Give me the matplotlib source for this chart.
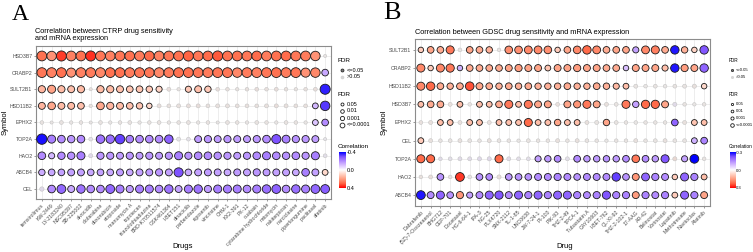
import numpy as np
import matplotlib
matplotlib.use("Agg")
import matplotlib.pyplot as plt
from matplotlib.colors import LinearSegmentedColormap, to_rgba

plt.rcParams['font.family'] = ['Liberation Sans', 'DejaVu Sans']

W, H = 753, 252

# ---- panel A : CTRP ----
ctrp_genes = ["HSD3B7", "CRABP2", "SULT2B1", "HSD11B2", "EPHX2", "TOP2A", "HAO2", "ABCB4", "CEL"]
ctrp_drugs = ["temsirolimus", "KW-2449", "LY-2183240", "NSC95397", "SB-225002", "alvocidib",
              "clofarabine", "doxorubicin", "etoposide", "manumycin A", "topotecan",
              "triazolothiadiazine", "BRD-K70511574", "GSK461364", "I-BET151", "dinaciclib",
              "parbendazole", "rigosertib", "vincristine", "CHM-1", "KX2-391", "PX-12", "ouabain",
              "cytarabine hydrochloride", "mitomycin", "nakiterpiosin", "narciclasine",
              "piperlongumine", "paclitaxel", "afatinib"]
ctrp_corr = [
    [0.28, 0.22, 0.34, 0.25, 0.28, 0.35, 0.27, 0.25, 0.27, 0.28, 0.26, 0.29, 0.25, 0.27, 0.28,
     0.30, 0.27, 0.29, 0.31, 0.28, 0.28, 0.27, 0.29, 0.26, 0.28, 0.29, 0.27, 0.26, 0.22, 0.02],
    [0.27, 0.25, 0.28, 0.22, 0.25, 0.26, 0.24, 0.28, 0.28, 0.26, 0.27, 0.27, 0.24, 0.26, 0.28,
     0.28, 0.27, 0.26, 0.27, 0.27, 0.24, 0.26, 0.25, 0.27, 0.28, 0.26, 0.27, 0.22, 0.24, -0.15],
    [0.15, 0.19, 0.14, 0.13, 0.14, 0.04, 0.14, 0.14, 0.13, 0.12, 0.12, 0.11, 0.09, 0.05, 0.03,
     0.11, 0.13, 0.11, 0.05, 0.04, 0.03, 0.04, 0.05, 0.04, 0.05, 0.04, 0.03, 0.04, 0.05, -0.36],
    [0.15, 0.18, 0.14, 0.14, 0.13, 0.04, 0.18, 0.15, 0.14, 0.13, 0.12, 0.08, 0.05, 0.04, 0.04,
     0.05, 0.05, 0.04, 0.04, 0.04, 0.04, 0.04, 0.04, 0.04, 0.05, 0.04, 0.04, 0.04, -0.12, -0.33],
    [0.03, 0.02, 0.03, 0.02, 0.03, 0.02, 0.03, 0.02, 0.03, 0.03, 0.02, 0.03, 0.03, 0.02, 0.03,
     0.03, 0.02, 0.03, 0.02, 0.03, 0.03, 0.02, 0.03, 0.03, 0.02, 0.03, 0.03, 0.02, -0.1, -0.2],
    [-0.38, -0.22, -0.2, -0.18, -0.2, -0.03, -0.24, -0.25, -0.32, -0.22, -0.2, -0.2, -0.2, -0.27, -0.03,
     -0.03, -0.17, -0.18, -0.17, -0.18, -0.17, -0.17, -0.18, -0.2, -0.3, -0.22, -0.19, -0.18, -0.17, -0.02],
    [-0.2, -0.12, -0.2, -0.19, -0.22, -0.06, -0.18, -0.18, -0.17, -0.18, -0.17, -0.18, -0.17, -0.18, -0.22,
     -0.18, -0.2, -0.2, -0.19, -0.18, -0.17, -0.18, -0.2, -0.22, -0.2, -0.19, -0.2, -0.18, -0.22, -0.04],
    [-0.14, -0.15, -0.16, -0.16, -0.16, -0.15, -0.16, -0.15, -0.17, -0.15, -0.16, -0.17, -0.18, -0.16, -0.3,
     -0.15, -0.16, -0.17, -0.16, -0.15, -0.17, -0.16, -0.18, -0.17, -0.16, -0.16, -0.15, -0.22, -0.16, 0.08],
    [-0.06, -0.2, -0.26, -0.15, -0.24, -0.2, -0.2, -0.26, -0.22, -0.17, -0.22, -0.22, -0.2, -0.24, -0.16,
     -0.22, -0.24, -0.17, -0.22, -0.22, -0.22, -0.2, -0.22, -0.25, -0.27, -0.2, -0.25, -0.22, -0.26, -0.28],
]
# -log10(FDR)
ctrp_nlog_fdr = [
    [12, 11, 13, 12, 12, 13, 12, 12, 12, 12, 12, 12, 12, 12, 12, 13, 12, 12, 13, 12, 12, 12, 12, 12, 12, 12, 12, 12, 11, 0.1],
    [12, 12, 12, 10, 12, 12, 12, 12, 12, 12, 12, 12, 12, 12, 12, 12, 12, 12, 12, 12, 11, 12, 12, 12, 12, 12, 12, 10, 11, 4],
    [5, 7, 5, 4.5, 5, 0.1, 5, 5, 4.5, 4, 4, 3.5, 3, 0.5, 0.2, 3, 4.5, 3.5, 0.4, 0.3, 0.2, 0.3, 0.4, 0.3, 0.4, 0.3, 0.2, 0.3, 0.4, 13],
    [4.5, 6, 4.5, 4.5, 4, 0.2, 6, 5, 4.5, 4, 3.5, 2, 0.5, 0.4, 0.5, 0.5, 0.5, 0.4, 0.5, 0.5, 0.4, 0.4, 0.4, 0.5, 0.5, 0.5, 0.4, 0.4, 2.5, 11],
    [0.3, 0.1, 0.4, 0.2, 0.3, 0.1, 0.4, 0.2, 0.3, 0.4, 0.2, 0.3, 0.4, 0.2, 0.3, 0.4, 0.2, 0.3, 0.1, 0.4, 0.3, 0.2, 0.4, 0.3, 0.2, 0.4, 0.3, 0.2, 2.5, 4],
    [14, 7, 6, 5.5, 6, 0.4, 8, 8, 11, 6, 6, 6, 6, 8, 0.5, 0.4, 4.5, 5, 4.5, 5, 4.5, 4.5, 5, 6, 10, 6.5, 5, 5, 4.5, 0.1],
    [6, 3, 5.5, 5.5, 7, 0.6, 5, 5, 4.5, 5, 4.5, 5, 4.5, 5, 7, 5, 6, 6, 5.5, 5, 4.5, 5, 6, 7, 6, 5.5, 6, 5, 7, 0.4],
    [3.5, 4, 4, 4.5, 4.5, 4, 4, 4, 4.5, 4, 4.5, 4.5, 5, 4.5, 10, 4, 4.5, 4.5, 4.5, 4, 4.5, 4.5, 5, 4.5, 4.5, 4.5, 4, 6, 4.5, 2.5],
    [0.8, 6, 9, 4.5, 8, 6, 6, 9, 7, 5, 7, 7, 6, 8, 4.5, 7, 8, 5, 7, 7, 7, 6, 7, 8, 9, 6, 8, 7, 9, 9],
]

# ---- panel B : GDSC ----
gdsc_genes = ["SULT2B1", "CRABP2", "HSD11B2", "HSD3B7", "EPHX2", "CEL", "TOP2A", "HAO2", "ABCB4"]
gdsc_drugs = ["Dabrafenib", "(5Z)-7-Oxozeaenol", "BHG712", "CEP-701", "Docetaxel", "HG-6-64-1",
              "IPA-3", "NG-25", "PLX4720", "SNX-2112", "TL-1-85", "UNC0638", "JW-7-24-1", "PI-103",
              "PIK-93", "THZ-2-49", "TPCA-1", "Tubastatin A", "CAY10603", "I-BET-762", "QL-XI-92",
              "THZ-2-102-1", "17-AAG", "AR-42", "Belinostat", "Vorinostat", "Lapatinib",
              "Methotrexate", "Navitoclax", "Afatinib"]
gdsc_corr = [
    [0.08, 0.14, 0.13, 0.2, 0.02, 0.14, 0.13, 0.12, 0.02, 0.17, 0.17, 0.18, 0.18, 0.17, 0.08,
     0.14, 0.18, 0.22, 0.18, 0.13, 0.14, 0.14, -0.12, 0.18, 0.19, 0.13, -0.28, 0.12, 0.07, -0.22],
    [0.18, 0.08, 0.18, 0.2, -0.1, 0.13, 0.13, 0.13, 0.13, 0.14, 0.15, 0.14, 0.14, 0.09, 0.14,
     0.14, 0.15, 0.14, 0.14, 0.13, 0.13, -0.08, 0.14, 0.14, 0.14, 0.1, -0.28, 0.15, 0.14, -0.2],
    [0.18, 0.22, 0.13, 0.12, 0.13, 0.24, 0.14, 0.13, 0.12, 0.13, 0.12, 0.13, 0.12, 0.12, 0.12,
     0.13, 0.12, 0.12, 0.13, 0.12, 0.11, 0.1, 0.02, 0.01, 0.02, 0.01, 0.02, 0.02, 0.03, 0.06],
    [0.1, 0.13, 0.13, 0.03, 0.1, 0.02, 0.1, 0.1, 0.13, 0.2, 0.1, 0.2, 0.14, 0.14, 0.03,
     0.14, 0.16, 0.2, 0.14, 0.03, 0.02, 0.2, -0.12, 0.22, 0.22, 0.14, -0.04, 0.02, 0.01, 0.02],
    [0.03, 0.03, 0.1, 0.1, 0.03, 0.1, 0.1, 0.03, 0.1, 0.1, 0.1, 0.22, 0.1, 0.1, 0.14,
     0.1, 0.1, 0.03, 0.02, 0.14, 0.02, 0.02, 0.01, 0.02, 0.02, 0.02, -0.2, 0.03, 0.09, 0.1],
    [0.08, 0.03, 0.02, 0.02, 0.03, 0.02, 0.02, 0.03, 0.02, 0.02, 0.01, 0.02, 0.02, 0.02, 0.03,
     0.02, 0.03, 0.02, 0.02, 0.01, 0.02, 0.02, 0.03, 0.02, 0.02, 0.03, 0.02, 0.02, -0.1, -0.16],
    [0.22, 0.22, -0.04, -0.03, -0.04, -0.04, -0.05, -0.05, 0.22, -0.04, -0.03, -0.03, -0.12, -0.13, -0.15,
     -0.03, -0.15, -0.13, -0.13, -0.14, -0.13, -0.15, 0.2, -0.15, -0.13, -0.22, 0.06, -0.12, -0.3, 0.02],
    [0.03, 0.04, -0.14, 0.02, 0.26, 0.02, -0.14, -0.15, 0.04, -0.13, -0.14, -0.14, -0.15, -0.15, -0.16,
     -0.15, -0.14, -0.15, -0.15, -0.15, -0.24, -0.14, 0.16, -0.2, -0.16, -0.15, 0.08, -0.2, -0.16, 0.1],
    [-0.28, -0.15, -0.2, -0.14, 0.16, -0.12, -0.15, -0.2, -0.22, -0.15, -0.2, -0.16, -0.2, -0.16, -0.2,
     -0.2, -0.16, -0.15, -0.16, -0.22, -0.16, -0.16, 0.15, -0.16, -0.15, -0.16, 0.08, -0.2, -0.16, 0.14],
]
gdsc_nlog_fdr = [
    [2, 4, 4, 7, 0.4, 4, 4, 3.5, 0.3, 6, 6, 6.5, 6.5, 6, 2, 4, 6, 8, 6.5, 4, 4, 4, 3, 6.5, 7, 4, 8, 3.5, 2, 8],
    [7, 2, 7, 7.5, 2, 4, 4, 4, 4, 4.5, 5, 4.5, 4.5, 2.5, 4.5, 4.5, 5, 4.5, 4.5, 4, 4, 2, 4.5, 4.5, 4.5, 3, 8, 5, 4.5, 8],
    [7, 8, 4, 3.5, 4, 8.5, 4.5, 4, 3.5, 4, 3.5, 4, 3.5, 3.5, 3.5, 4, 3.5, 3.5, 4, 3.5, 3, 2.5, 0.5, 0.3, 0.4, 0.3, 0.4, 0.5, 0.6, 2],
    [2.5, 4, 4, 0.5, 2.5, 0.3, 2.5, 2.5, 4, 7, 2.5, 7, 4.5, 4.5, 0.4, 4.5, 5, 7, 4.5, 0.5, 0.4, 7, 3.5, 7.5, 7.5, 4.5, 0.6, 0.3, 0.2, 0.3],
    [0.4, 0.5, 2.5, 2.5, 0.5, 2.5, 2.5, 0.5, 2.5, 2.5, 2.5, 7, 2.5, 2.5, 3.5, 2.5, 2.5, 0.5, 0.5, 3.5, 0.4, 0.3, 0.3, 0.3, 0.3, 0.3, 4, 0.5, 2.5, 2.5],
    [2.5, 0.5, 0.3, 0.4, 0.5, 0.4, 0.3, 0.5, 0.4, 0.3, 0.2, 0.4, 0.3, 0.3, 0.5, 0.3, 0.5, 0.4, 0.3, 0.2, 0.3, 0.3, 0.5, 0.3, 0.4, 0.5, 0.4, 0.4, 2.5, 4],
    [7, 7, 0.3, 0.4, 0.5, 0.5, 0.6, 0.6, 7, 0.5, 0.4, 0.4, 3, 3.5, 4, 0.5, 4, 3.5, 3.5, 3.5, 3.5, 4, 6, 4, 3.5, 7, 0.6, 3, 9, 0.3],
    [0.3, 0.5, 4, 0.3, 9, 0.4, 4, 4, 0.6, 4, 4, 4, 4.5, 4.5, 5, 4.5, 4, 4.5, 4.5, 4.5, 8, 4, 4.5, 6.5, 5, 4.5, 2, 7, 5, 2.5],
    [9, 4.5, 7, 4, 5, 3, 4.5, 7, 7.5, 4.5, 7, 5, 7, 5, 7, 7, 5, 4.5, 5, 7.5, 5, 5, 4.5, 5, 4.5, 5, 2.5, 7, 5, 4.5],
]

# blue -> white -> red, roughly ggplot's Lab interpolation
cmap = LinearSegmentedColormap.from_list(
    "corr", ["#0000ff", "#7e52ff", "#b38bff", "#dcc4ff", "#ffffff",
             "#ffcfbf", "#ff9e81", "#ff6746", "#ff0000"])
GREY = np.array(to_rgba("#d6d6d6"))


def fx(x):
    return x / W


def fy(y):
    return 1 - y / H


def dot_size(v):
    d = 2.5 + 2.1 * np.sqrt(v)          # diameter in px
    return (d * 0.72) ** 2


def draw_panel(rect, genes, drugs, corr, nlog, lim):
    ax = fig.add_axes(rect)
    corr = np.array(corr)
    nlog = np.array(nlog)
    ny, nx = corr.shape
    for k in range(nx):
        ax.axvline(k, color="#e6e6e6", lw=0.5, zorder=0)
    for i in range(ny):
        ax.axhline(i, color="#e6e6e6", lw=0.5, zorder=0)
    xx, yy = np.meshgrid(np.arange(nx), ny - 1 - np.arange(ny))
    sig = nlog >= 1.3
    cols = cmap((corr / lim + 1) / 2)
    faded = 0.45 * cols + 0.55 * GREY
    ax.scatter(xx[~sig], yy[~sig], s=dot_size(nlog[~sig]), c=faded[~sig],
               edgecolors="#c4c4c4", linewidths=0.4, zorder=2)
    ax.scatter(xx[sig], yy[sig], s=dot_size(nlog[sig]), c=cols[sig],
               edgecolors="#1a1a1a", linewidths=0.6, zorder=3)
    ax.set_xlim(-0.6, nx - 0.4)
    ax.set_ylim(-0.6, ny - 0.4)
    ax.set_yticks(range(ny))
    ax.set_yticklabels(genes[::-1], fontsize=3.8, color="#4d4d4d")
    ax.set_xticks(range(nx))
    ax.set_xticklabels(drugs, rotation=45, ha="right", rotation_mode="anchor",
                       fontsize=3.8, color="#4d4d4d")
    ax.tick_params(length=1.5, width=0.4, pad=1, color="#4d4d4d")
    for s in ax.spines.values():
        s.set_color("#8c8c8c")
        s.set_linewidth(0.8)
    return ax


def draw_legend(x0, lim, k):
    # k scales the legend (panel B legend is drawn smaller)
    tfs, efs = 4.6 * k, 4.0 * k
    mx, tx = x0 + 4 * k, x0 + 9 * k
    lax = fig.add_axes([0, 0, 1, 1], facecolor="none")
    lax.set_xlim(0, W)
    lax.set_ylim(H, 0)
    lax.axis("off")
    fig.text(fx(x0), fy(61), "FDR", fontsize=tfs, va="center")
    lax.scatter([mx], [70], s=(3.0 * k * 0.72) ** 2, c="#7a7a7a", edgecolors="#1a1a1a", linewidths=0.5)
    lax.scatter([mx], [77], s=(3.0 * k * 0.72) ** 2, c="#d6d6d6", edgecolors="#cccccc", linewidths=0.4)
    fig.text(fx(tx), fy(70), "<=0.05", fontsize=efs, va="center")
    fig.text(fx(tx), fy(77), ">0.05", fontsize=efs, va="center")
    fig.text(fx(x0), fy(95), "FDR", fontsize=tfs, va="center")
    for yy, d, lab in zip([104, 111, 118, 125], [3.0, 3.6, 4.2, 4.8],
                          ["0.05", "0.01", "0.001", "<=0.0001"]):
        lax.scatter([mx], [yy], s=(d * k * 0.72) ** 2, c="white", edgecolors="#1a1a1a", linewidths=0.6)
        fig.text(fx(tx), fy(yy), lab, fontsize=efs, va="center")
    fig.text(fx(x0), fy(146), "Correlation", fontsize=tfs, va="center")
    cax = fig.add_axes([fx(x0 + 0.5), fy(188), 7 * k / W, 36 / H])
    cax.imshow(np.linspace(-1, 1, 200)[:, None], aspect="auto", cmap=cmap,
               extent=[0, 1, lim, -lim], vmin=-1, vmax=1)
    cax.set_ylim(lim, -lim)
    cax.set_xticks([])
    cax.set_yticks([])
    for s in cax.spines.values():
        s.set_visible(False)
    for v, lab in zip([-lim, 0, lim], ["-%.1f" % lim, "0.0", "%.1f" % lim]):
        fig.text(fx(tx), fy(153 + (v + lim) / (2 * lim) * 35), lab, fontsize=efs, va="center")


fig = plt.figure(figsize=(W / 100, H / 100), dpi=100)

# panel A
draw_panel([fx(36), fy(199), 295 / W, 153 / H], ctrp_genes, ctrp_drugs,
           ctrp_corr, ctrp_nlog_fdr, 0.4)
fig.text(fx(12), fy(15), "A", fontsize=17, family="Liberation Serif", va="center")
fig.text(fx(35), fy(35), "Correlation between CTRP drug sensitivity\nand mRNA expression",
         fontsize=5.3, va="center", linespacing=1.1)
fig.text(fx(183), fy(247), "Drugs", fontsize=5.5, ha="center", va="center")
fig.text(fx(5), fy(122), "Symbol", fontsize=5.5, rotation=90, ha="center", va="center")
draw_legend(338, 0.4, 1.0)

# panel B
draw_panel([fx(415), fy(206), 295 / W, 167 / H], gdsc_genes, gdsc_drugs,
           gdsc_corr, gdsc_nlog_fdr, 0.3)
fig.text(fx(383), fy(13), "B", fontsize=19, family="Liberation Serif", va="center")
fig.text(fx(415), fy(33), "Correlation between GDSC drug sensitivity and mRNA expression",
         fontsize=5.3, va="center")
fig.text(fx(565), fy(247), "Drug", fontsize=5.5, ha="center", va="center")
fig.text(fx(384), fy(122), "Symbol", fontsize=5.5, rotation=90, ha="center", va="center")
draw_legend(729, 0.3, 0.75)

fig.savefig("out.png", dpi=100)
